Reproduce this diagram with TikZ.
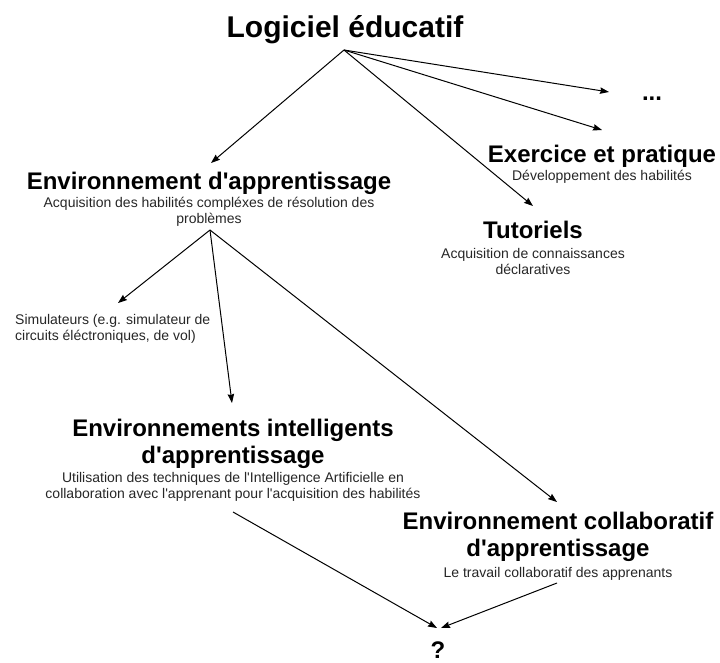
\documentclass[tikz,border=0pt]{standalone}
\usepackage{fontspec}
\setmainfont{Liberation Sans}
\usetikzlibrary{arrows.meta,positioning}

\newcommand{\ap}{\textquotesingle}

\begin{document}
\begin{tikzpicture}[x=1pt,y=-1pt,
  titre/.style={font=\bfseries\fontsize{30}{36}\selectfont, inner sep=0pt, anchor=base},
  rubrique/.style={font=\bfseries\fontsize{24}{27}\selectfont, align=center, inner sep=0pt, anchor=base},
  detail/.style={font=\fontsize{14}{15.5}\selectfont, text=black!85, align=center, inner sep=0pt, anchor=base},
  fleche/.style={-{Stealth[length=9pt,width=6.5pt,inset=1pt]}, line width=1pt}]

\useasboundingbox (0,0) rectangle (720,662);

% Define the nodes (multi-line nodes sit on their last baseline)
\node[titre] (logiciel) at (345,37) {Logiciel éducatif};

\node[rubrique] (autres) at (652,100) {...};

\node[rubrique] (exercice) at (602,162) {Exercice et pratique};
\node[detail] (exercicetxt) at (602,180) {Développement des habilités};

\node[rubrique] (tutoriels) at (533,238) {Tutoriels};
\node[detail] (tutorielstxt) at (533,274) {Acquisition de connaissances\\déclaratives};

\node[rubrique] (envapp) at (209,189) {Environnement d\ap apprentissage};
\node[detail] (envapptxt) at (209,223) {Acquisition des habilités compléxes de résolution des\\problèmes};

\node[detail, align=left, anchor=base west] (simul) at (15,340) {Simulateurs (e.g. simulateur de\\circuits éléctroniques, de vol)};

\node[rubrique] (envint) at (233,463) {Environnements intelligents\\d\ap apprentissage};
\node[detail] (envinttxt) at (233,498) {Utilisation des techniques de l\ap Intelligence Artificielle en\\collaboration avec l\ap apprenant pour l\ap acquisition des habilités};

\node[rubrique] (envcol) at (558,556) {Environnement collaboratif\\d\ap apprentissage};
\node[detail] (envcoltxt) at (558,577) {Le travail collaboratif des apprenants};

\node[rubrique] (question) at (438,658) {?};

% Define the arrow ends
\coordinate (logsrc) at (344,50);
\coordinate (autresin) at (609,92);
\coordinate (exercicein) at (602,130);
\coordinate (tutorielsin) at (533,206);
\coordinate (envappin) at (211,163);

\coordinate (envappsrc) at (210,230);
\coordinate (simulin) at (118,303);
\coordinate (envintin) at (232,403);
\coordinate (envcolin) at (557,502);

\coordinate (envintsrc) at (233,512);
\coordinate (envcolsrc) at (557,583);
\coordinate (questionin) at (439,628);

% Draw arrows from the top node
\draw[fleche] (logsrc) -- (autresin);
\draw[fleche] (logsrc) -- (exercicein);
\draw[fleche] (logsrc) -- (tutorielsin);
\draw[fleche] (logsrc) -- (envappin);

% Draw arrows from the learning environment
\draw[fleche] (envappsrc) -- (simulin);
\draw[fleche] (envappsrc) -- (envintin);
\draw[fleche] (envappsrc) -- (envcolin);

% Draw arrows to the question mark
\draw[fleche] (envintsrc) -- ([xshift=-2pt]questionin);
\draw[fleche] (envcolsrc) -- ([xshift=2pt]questionin);
\end{tikzpicture}
\end{document}
